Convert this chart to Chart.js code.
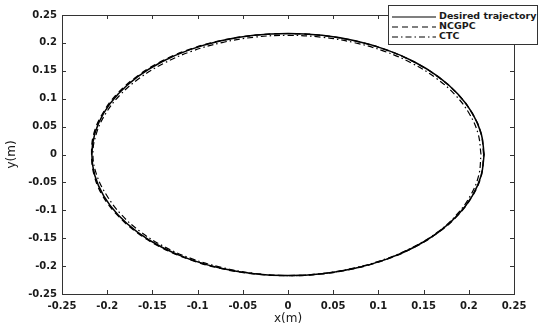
<!DOCTYPE html>
<html>
<head>
<meta charset="utf-8">
<script src="https://cdn.jsdelivr.net/npm/chart.js@4"></script>
<style>
  html,body{margin:0;padding:0;background:#fff;}
  #wrap{position:relative;width:550px;height:329px;}
  #legend{position:absolute;left:388px;top:5px;width:148px;height:38px;border:1px solid #333;background:#fff;
    font-family:"DejaVu Sans",sans-serif;font-size:9.5px;font-weight:bold;color:#1a1a1a;}
  .row{position:absolute;left:0;height:10px;width:148px;}
  .row svg{position:absolute;left:3px;top:0;}
  .row span{position:absolute;left:50px;top:-2px;white-space:nowrap;}
</style>
</head>
<body>
<div id="wrap">
  <canvas id="c" width="550" height="329"></canvas>
  <div id="legend"></div>
</div>
<script>
const seriesNames = ["Desired trajectory", "NCGPC", "CTC"];
const xTicks = [-0.25,-0.2,-0.15,-0.1,-0.05,0,0.05,0.1,0.15,0.2,0.25];
const yTicks = [-0.25,-0.2,-0.15,-0.1,-0.05,0,0.05,0.1,0.15,0.2,0.25];

const desiredX = [0.217,0.2137,0.2039,0.1879,0.1662,0.1395,0.1085,0.0742,0.0377,0,-0.0377,-0.0742,-0.1085,-0.1395,-0.1662,-0.1879,-0.2039,-0.2137,-0.217,-0.2137,-0.2039,-0.1879,-0.1662,-0.1395,-0.1085,-0.0742,-0.0377,0,0.0377,0.0742,0.1085,0.1395,0.1662,0.1879,0.2039,0.2137,0.217];
const desiredY = [0,0.0377,0.0742,0.1085,0.1395,0.1662,0.1879,0.2039,0.2137,0.217,0.2137,0.2039,0.1879,0.1662,0.1395,0.1085,0.0742,0.0377,0,-0.0377,-0.0742,-0.1085,-0.1395,-0.1662,-0.1879,-0.2039,-0.2137,-0.217,-0.2137,-0.2039,-0.1879,-0.1662,-0.1395,-0.1085,-0.0742,-0.0377,0];

const ncgpcX = [0.2165,0.2135,0.2036,0.1877,0.1660,0.1392,0.1083,0.0740,0.0375,0,-0.0379,-0.0745,-0.1090,-0.1402,-0.1668,-0.1888,-0.2045,-0.2146,-0.2172,-0.2142,-0.2048,-0.1884,-0.1668,-0.1400,-0.1088,-0.0745,-0.0378,0,0.0378,0.0743,0.1086,0.1396,0.1663,0.1880,0.2040,0.2138,0.2165];
const ncgpcY = [0,0.0376,0.0741,0.1083,0.1392,0.1659,0.1876,0.2036,0.2134,0.2166,0.2136,0.2040,0.1882,0.1668,0.1402,0.1090,0.0748,0.0380,0,-0.0380,-0.0745,-0.1090,-0.1400,-0.1666,-0.1882,-0.2041,-0.2138,-0.2170,-0.2137,-0.2040,-0.1880,-0.1663,-0.1396,-0.1086,-0.0743,-0.0377,0];

const ctcX = [0.2135,0.2103,0.2006,0.1849,0.1635,0.1372,0.1068,0.0730,0.0371,0,-0.0371,-0.0730,-0.1068,-0.1372,-0.1637,-0.1855,-0.2016,-0.2120,-0.2158,-0.2115,-0.2006,-0.1849,-0.1637,-0.1377,-0.1075,-0.0737,-0.0376,0,0.0376,0.0740,0.1082,0.1390,0.1655,0.1865,0.2018,0.2110,0.2135];
const ctcY = [0,0.0371,0.0730,0.1068,0.1372,0.1635,0.1849,0.2006,0.2103,0.2135,0.2103,0.2006,0.1849,0.1635,0.1374,0.1072,0.0735,0.0374,0,-0.0372,-0.0730,-0.1068,-0.1378,-0.1645,-0.1862,-0.2022,-0.2130,-0.2170,-0.2135,-0.2030,-0.1870,-0.1655,-0.1390,-0.1080,-0.0737,-0.0372,0];

const dashes = [[], [6,4], [6,3,1.5,3]];

function pts(xs, ys){ return xs.map((x,i)=>({x:x, y:ys[i]})); }

const FONT = "DejaVu Sans";
const AX = '#333';

const boxAndTicks = {
  id:'boxAndTicks',
  afterDatasetsDraw(chart){
    const {ctx, chartArea:a, scales} = chart;
    ctx.save();
    ctx.strokeStyle = AX; ctx.lineWidth = 1;
    ctx.beginPath();
    const L = 4;
    scales.x.ticks.forEach(t=>{
      const px = Math.round(scales.x.getPixelForValue(t.value))+0.5;
      ctx.moveTo(px, a.bottom); ctx.lineTo(px, a.bottom-L);
      ctx.moveTo(px, a.top); ctx.lineTo(px, a.top+L);
    });
    scales.y.ticks.forEach(t=>{
      const py = Math.round(scales.y.getPixelForValue(t.value))+0.5;
      ctx.moveTo(a.left, py); ctx.lineTo(a.left+L, py);
      ctx.moveTo(a.right, py); ctx.lineTo(a.right-L, py);
    });
    ctx.stroke();
    ctx.strokeRect(Math.round(a.left)+0.5, Math.round(a.top)+0.5, Math.round(a.right-a.left), Math.round(a.bottom-a.top));
    ctx.restore();
  }
};

new Chart(document.getElementById('c'), {
  type:'scatter',
  data:{
    datasets:[
      {label:seriesNames[0], data:pts(desiredX,desiredY), showLine:true, borderColor:'#000', borderWidth:1.5, borderDash:dashes[0], pointRadius:0, tension:0.4, fill:false},
      {label:seriesNames[1], data:pts(ncgpcX,ncgpcY), showLine:true, borderColor:'#000', borderWidth:1.4, borderDash:dashes[1], pointRadius:0, tension:0.4, fill:false},
      {label:seriesNames[2], data:pts(ctcX,ctcY), showLine:true, borderColor:'#000', borderWidth:1.2, borderDash:dashes[2], pointRadius:0, tension:0.4, fill:false}
    ]
  },
  options:{
    responsive:false, animation:false,
    layout:{padding:{left:0, right:36, top:15, bottom:0}},
    plugins:{legend:{display:false}, tooltip:{enabled:false}},
    scales:{
      x:{
        type:'linear', min:-0.25, max:0.25,
        afterBuildTicks(s){ s.ticks = xTicks.map(v=>({value:v})); },
        afterFit(s){ s.height = 35; },
        grid:{display:false, drawTicks:false},
        border:{display:false},
        ticks:{padding:6, color:'#1a1a1a', font:{family:FONT, size:10, weight:'bold'}, maxRotation:0, autoSkip:false,
          callback:(v)=>String(Math.round(v*100)/100)},
        title:{display:true, text:'x(m)', color:'#1a1a1a', font:{family:FONT, size:12}, padding:{top:0,bottom:3}}
      },
      y:{
        type:'linear', min:-0.25, max:0.25,
        afterBuildTicks(s){ s.ticks = yTicks.map(v=>({value:v})); },
        afterFit(s){ s.width = 62; },
        grid:{display:false, drawTicks:false},
        border:{display:false},
        ticks:{padding:5, color:'#1a1a1a', font:{family:FONT, size:10, weight:'bold'}, autoSkip:false,
          callback:(v)=>String(Math.round(v*100)/100)},
        title:{display:true, text:'y(m)', color:'#1a1a1a', font:{family:FONT, size:12}, padding:{top:5,bottom:0}}
      }
    }
  },
  plugins:[boxAndTicks]
});

// HTML legend built from the series names and dash styles
const lg = document.getElementById('legend');
const rowTops = [6, 16, 26];
seriesNames.forEach((n,i)=>{
  const r = document.createElement('div');
  r.className='row'; r.style.top = rowTops[i]+'px';
  const da = dashes[i].length ? dashes[i].join(',') : 'none';
  r.innerHTML = '<svg width="44" height="10"><line x1="0" y1="5" x2="44" y2="5" stroke="#000" stroke-width="1.1" stroke-dasharray="'+da+'"/></svg><span>'+n+'</span>';
  lg.appendChild(r);
});
</script>
</body>
</html>
